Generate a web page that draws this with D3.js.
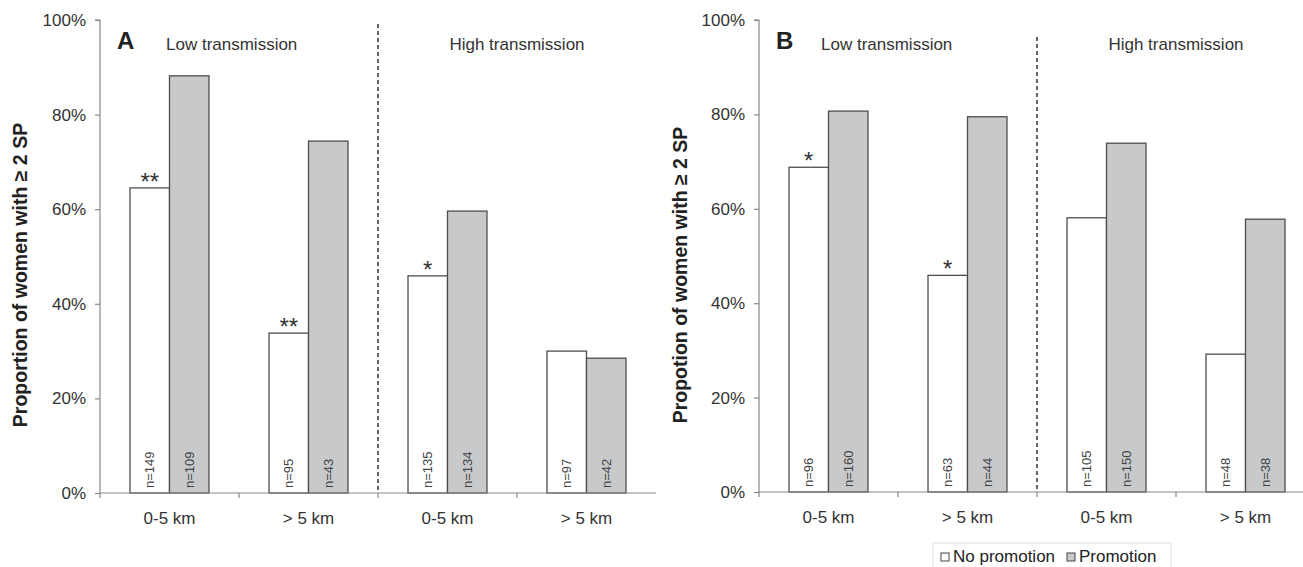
<!DOCTYPE html>
<html>
<head>
<meta charset="utf-8">
<script src="https://cdn.jsdelivr.net/npm/d3@7"></script>
<style>
  body { margin: 0; background: #fff; }
  svg { display: block; font-family: "Liberation Sans", Arial, sans-serif; }
</style>
</head>
<body>
<svg id="chart" width="1303" height="567"></svg>
<script>
// data
var groups = ["low-near", "low-far", "high-near", "high-far"];
var groupLabels = ["0-5 km", "> 5 km", "0-5 km", "> 5 km"];
var seriesNames = ["No promotion", "Promotion"];
var yTicks = [0, 20, 40, 60, 80, 100];

var aNoPromo = [64.5, 33.8, 45.9, 30.0];
var aPromo = [88.2, 74.4, 59.6, 28.5];
var aNNo = [149, 95, 135, 97];
var aNPromo = [109, 43, 134, 42];
var aStars = ["**", "**", "*", ""];

var bNoPromo = [68.8, 45.9, 58.1, 29.2];
var bPromo = [80.7, 79.5, 73.9, 57.8];
var bNNo = [96, 63, 105, 48];
var bNPromo = [160, 44, 150, 38];
var bStars = ["*", "*", "", ""];

var colors = { "No promotion": "#ffffff", "Promotion": "#c8c9cb" };

var svg = d3.select("#chart");

function panel(opts) {
  var left = opts.left;
  var top = 20;
  var w = 556;
  var h = opts.height;

  var g = svg.append("g").attr("transform", "translate(" + left + "," + top + ")");

  var y = d3.scaleLinear().domain([0, 100]).range([h, 0]);
  var x0 = d3.scaleBand().domain(groups).range([0, w]).padding(0);
  var x1 = d3.scaleBand().domain(seriesNames).range([0, x0.bandwidth()])
    .paddingInner(0).paddingOuter(0.76);

  var rows = groups.map(function (k, i) {
    return [
      { group: k, s: "No promotion", v: opts.no[i], n: opts.nNo[i], star: opts.stars[i] },
      { group: k, s: "Promotion", v: opts.promo[i], n: opts.nPromo[i], star: "" }
    ];
  });

  // y axis
  var yAxis = g.append("g")
    .call(d3.axisLeft(y).tickValues(yTicks).tickFormat(function (d) { return d + "%"; })
      .tickSize(5).tickPadding(9));
  yAxis.selectAll("path, line").attr("stroke", "#888").attr("stroke-width", 1.2);
  yAxis.select(".domain").attr("d", "M0," + h + "V0H-5");
  yAxis.selectAll("text").attr("font-size", 17).attr("fill", "#333")
    .attr("font-family", "Liberation Sans, Arial, sans-serif");

  // bars
  var layer = g.selectAll(".grp")
    .data(rows)
    .enter().append("g")
    .attr("class", "grp")
    .attr("transform", function (d) { return "translate(" + x0(d[0].group) + ",0)"; });

  layer.selectAll("rect")
    .data(function (d) { return d; })
    .enter().append("rect")
    .attr("x", function (d) { return x1(d.s); })
    .attr("y", function (d) { return y(d.v); })
    .attr("width", x1.bandwidth())
    .attr("height", function (d) { return h - y(d.v); })
    .attr("fill", function (d) { return colors[d.s]; })
    .attr("stroke", "#4d4d4d")
    .attr("stroke-width", 1.3);

  // n labels
  layer.selectAll(".n")
    .data(function (d) { return d; })
    .enter().append("text")
    .attr("class", "n")
    .attr("transform", function (d) {
      return "translate(" + (x1(d.s) + x1.bandwidth() / 2 + 4.5) + "," + (h - 5) + ") rotate(-90)";
    })
    .attr("font-size", 13)
    .attr("fill", "#444")
    .text(function (d) { return "n=" + d.n; });

  // significance stars
  layer.selectAll(".star")
    .data(function (d) { return d.filter(function (e) { return e.star; }); })
    .enter().append("text")
    .attr("class", "star")
    .attr("x", function (d) { return x1(d.s) + x1.bandwidth() / 2; })
    .attr("y", function (d) { return y(d.v) + 2; })
    .attr("text-anchor", "middle")
    .attr("font-size", 24)
    .attr("fill", "#333")
    .text(function (d) { return d.star; });

  // x axis
  var xa = g.append("g").attr("transform", "translate(0," + h + ")");
  xa.append("line").attr("x1", 0).attr("x2", w).attr("stroke", "#888").attr("stroke-width", 1.2);
  xa.selectAll(".tk")
    .data(groups)
    .enter().append("line")
    .attr("class", "tk")
    .attr("x1", function (d) { return x0(d); })
    .attr("x2", function (d) { return x0(d); })
    .attr("y1", 0).attr("y2", 5)
    .attr("stroke", "#888").attr("stroke-width", 1.2);
  xa.selectAll(".lbl")
    .data(groups)
    .enter().append("text")
    .attr("class", "lbl")
    .attr("x", function (d) { return x0(d) + x0.bandwidth() / 2; })
    .attr("y", 31)
    .attr("text-anchor", "middle")
    .attr("font-size", 17)
    .attr("fill", "#333")
    .text(function (d, i) { return groupLabels[i]; });

  // divider between transmission levels
  g.append("line")
    .attr("x1", x0("high-near")).attr("x2", x0("high-near"))
    .attr("y1", opts.dashTop).attr("y2", h)
    .attr("stroke", "#333").attr("stroke-width", 1.5)
    .attr("stroke-dasharray", "4,3");

  // panel letter and headers
  g.append("text").attr("x", 17).attr("y", 29)
    .attr("font-size", 24).attr("font-weight", "bold").attr("fill", "#222")
    .text(opts.letter);
  g.append("text").attr("x", opts.lowX).attr("y", 30)
    .attr("font-size", 17).attr("fill", "#333")
    .text("Low transmission");
  g.append("text").attr("x", x0("high-far")).attr("y", 30)
    .attr("text-anchor", "middle")
    .attr("font-size", 17).attr("fill", "#333")
    .text("High transmission");

  // y title
  svg.append("text")
    .attr("transform", "translate(" + opts.titleX + ",275) rotate(-90)")
    .attr("text-anchor", "middle")
    .attr("font-size", 19.5).attr("font-weight", "bold").attr("fill", "#222")
    .text(opts.title);
}

panel({
  left: 100, height: 473, letter: "A", lowX: 66, dashTop: 4, titleX: 27,
  title: "Proportion of women with \u2265 2 SP",
  no: aNoPromo, promo: aPromo, nNo: aNNo, nPromo: aNPromo, stars: aStars
});

panel({
  left: 759, height: 472, letter: "B", lowX: 62, dashTop: 17, titleX: 687,
  title: "Propotion of women with \u2265 2 SP",
  no: bNoPromo, promo: bPromo, nNo: bNNo, nPromo: bNPromo, stars: bStars
});

// legend
var legend = svg.append("g").attr("transform", "translate(933,543)");
legend.append("rect")
  .attr("x", 0).attr("y", 0).attr("width", 238).attr("height", 30)
  .attr("fill", "#fff").attr("stroke", "#ddd");

var legendX = [8, 134];
var li = legend.selectAll(".li")
  .data(seriesNames)
  .enter().append("g")
  .attr("class", "li")
  .attr("transform", function (d, i) { return "translate(" + legendX[i] + ",0)"; });
li.append("rect")
  .attr("x", 0).attr("y", 10).attr("width", 8).attr("height", 8)
  .attr("fill", function (d) { return colors[d]; })
  .attr("stroke", "#444");
li.append("text")
  .attr("x", 12).attr("y", 19)
  .attr("font-size", 17).attr("fill", "#222")
  .text(function (d) { return d; });
</script>
</body>
</html>
